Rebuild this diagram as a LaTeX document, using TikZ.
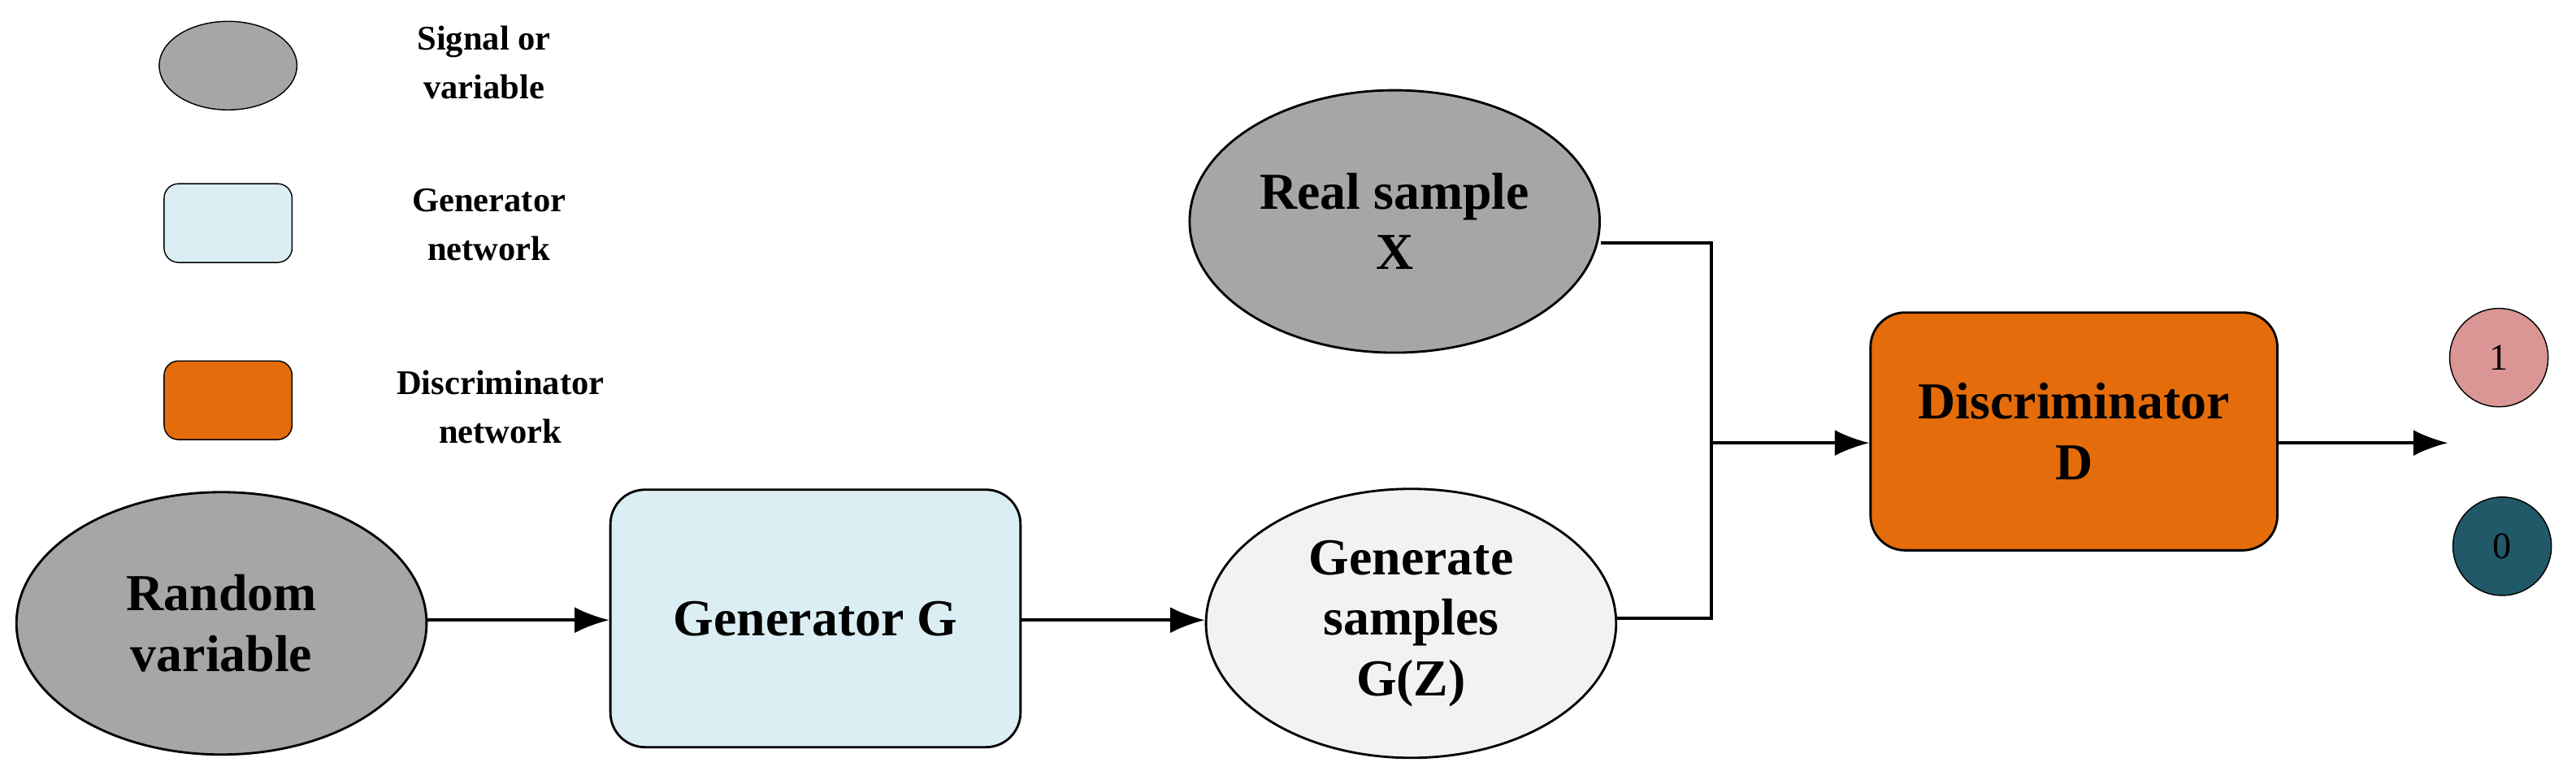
\documentclass[tikz,border=0pt]{standalone}
\usepackage{fontspec}
\setmainfont{Liberation Serif}
\usetikzlibrary{arrows.meta,shapes.geometric}
\definecolor{gr}{HTML}{A6A6A6}
\definecolor{lb}{HTML}{DAEEF3}
\definecolor{org}{HTML}{E46C0A}
\definecolor{lg}{HTML}{F2F2F2}
\definecolor{pk}{HTML}{D99694}
\definecolor{dt}{HTML}{215968}
\begin{document}
\begin{tikzpicture}[x=0.02cm,y=-0.02cm,
  ell/.style={ellipse,draw,line width=0.8pt,align=center,font=\fontsize{18}{21}\selectfont\bfseries},
  box/.style={rectangle,rounded corners=12pt,draw,line width=0.8pt,align=center,font=\fontsize{18}{21}\selectfont\bfseries},
  leg/.style={align=center,font=\fontsize{12}{17}\selectfont\bfseries},
  arr/.style={line width=1pt,-{Latex[length=12pt,width=9pt]}},
  ln/.style={line width=1pt}]
\useasboundingbox (0,0) rectangle (1570,470);
% legend
\node[ellipse,draw,fill=gr,minimum width=84\pgflinewidth*0+1.68cm,minimum height=1.08cm] (l1) at (139,40) {};
\node[leg] (t1) at (295,38) {Signal or\\variable};
\node[rectangle,rounded corners=5pt,draw,fill=lb,minimum width=1.56cm,minimum height=0.96cm] (l2) at (139,136) {};
\node[leg] (t2) at (298,137) {Generator\\network};
\node[rectangle,rounded corners=5pt,draw,fill=org,minimum width=1.56cm,minimum height=0.96cm] (l3) at (139,244) {};
\node[leg] (t3) at (305,248) {Discriminator\\network};
% main
\node[ell,fill=gr,minimum width=5cm,minimum height=3.2cm] (rv) at (135,380) {Random\\variable};
\node[box,fill=lb,minimum width=5cm,minimum height=3.14cm] (g) at (497,377) {Generator G};
\node[ell,fill=lg,minimum width=5cm,minimum height=3.28cm] (gs) at (860,380) {Generate\\samples\\G(Z)};
\node[ell,fill=gr,minimum width=5cm,minimum height=3.2cm] (rs) at (850,135) {Real sample\\X};
\node[box,fill=org,minimum width=4.96cm,minimum height=2.9cm] (d) at (1264,263) {Discriminator\\D};
\node[circle,draw,fill=pk,minimum size=1.2cm,font=\fontsize{13}{15}\selectfont] (c1) at (1523,218) {1};
\node[circle,draw,fill=dt,minimum size=1.2cm,font=\fontsize{13}{15}\selectfont] (c0) at (1525,333) {0};
\coordinate (j) at (1043,270);
\coordinate (out) at (1492,270);
\draw[arr] (rv.east |- 0,378) -- (g.west |- 0,378);
\draw[arr] (g.east |- 0,378) -- (gs.west |- 0,378);
\draw[ln] (rs.east |- 0,148) -| (j);
\draw[ln] (gs.east |- 0,377) -| (j);
\draw[arr] (j) -- (d.west |- j);
\draw[arr] (d.east |- j) -- (out);
\end{tikzpicture}
\end{document}
